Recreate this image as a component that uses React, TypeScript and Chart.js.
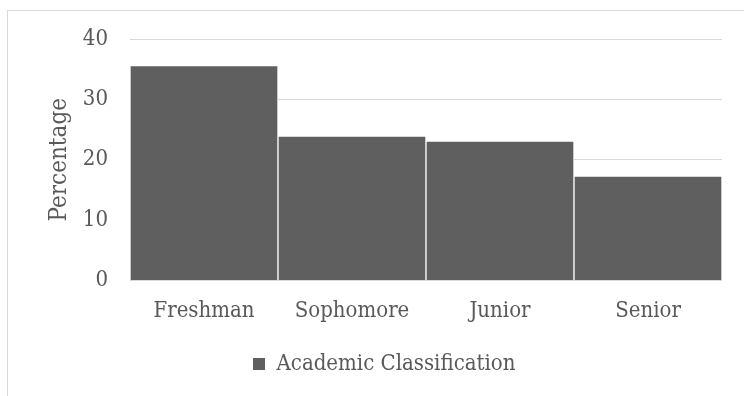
import React, { useEffect, useRef } from "react";
import { Chart, registerables } from "chart.js";

Chart.register(...registerables);

// Share of respondents by academic classification
const categories: string[] = ["Freshman", "Sophomore", "Junior", "Senior"];
const percentages: number[] = [35.6, 23.9, 23.1, 17.3];
const seriesLabel = "Academic Classification";
const axisTitle = "Percentage";
const yMin = 0;
const yMax = 40;
const yStep = 10;

const FONT_FAMILY = "'DejaVu Serif Condensed', 'DejaVu Serif', serif";
const TEXT_COLOR = "#595959";
const GRID_COLOR = "#d9d9d9";
const BAR_COLOR = "#5f5f5f";

export default function App() {
  const canvasRef = useRef<HTMLCanvasElement | null>(null);

  useEffect(() => {
    const canvas = canvasRef.current;
    if (!canvas) return;
    const font = { family: FONT_FAMILY, size: 22 };

    const chart = new Chart(canvas, {
      type: "bar",
      data: {
        labels: categories,
        datasets: [
          {
            label: seriesLabel,
            data: percentages,
            backgroundColor: BAR_COLOR,
            borderColor: "#ffffff",
            borderWidth: 1,
            categoryPercentage: 1,
            barPercentage: 1,
          },
        ],
      },
      options: {
        responsive: false,
        animation: false,
        layout: { padding: { top: 39, right: 22, left: 46, bottom: 11 } },
        plugins: {
          tooltip: { enabled: false },
          legend: {
            position: "bottom",
            labels: {
              boxWidth: 13,
              boxHeight: 13,
              padding: 10,
              color: TEXT_COLOR,
              font,
            },
          },
        },
        scales: {
          x: {
            grid: { display: false },
            border: { display: false },
            ticks: { color: TEXT_COLOR, font, padding: 9.5 },
            afterFit: (scale: any) => {
              scale.height = 62.5;
            },
          },
          y: {
            min: yMin,
            max: yMax,
            border: { display: false },
            grid: { color: GRID_COLOR, lineWidth: 1, drawTicks: false },
            ticks: { stepSize: yStep, color: TEXT_COLOR, font, padding: 22 },
            title: {
              display: true,
              text: axisTitle,
              color: TEXT_COLOR,
              font: { family: FONT_FAMILY, size: 24 },
              padding: { top: -1, bottom: 0 },
            },
            afterFit: (scale: any) => {
              scale.width = 84;
            },
          },
        },
      },
    });

    return () => chart.destroy();
  }, []);

  return (
    <div
      style={{
        position: "fixed",
        left: 0,
        top: 0,
        width: 744,
        height: 396,
        overflow: "hidden",
        background: "#ffffff",
      }}
    >
      <div
        style={{
          position: "absolute",
          left: 7,
          top: 10,
          width: 900,
          height: 600,
          borderLeft: `1px solid ${GRID_COLOR}`,
          borderTop: `1px solid ${GRID_COLOR}`,
        }}
      />
      <canvas
        ref={canvasRef}
        width={744}
        height={396}
        style={{ position: "absolute", left: 0, top: 0, width: 744, height: 396 }}
      />
    </div>
  );
}
